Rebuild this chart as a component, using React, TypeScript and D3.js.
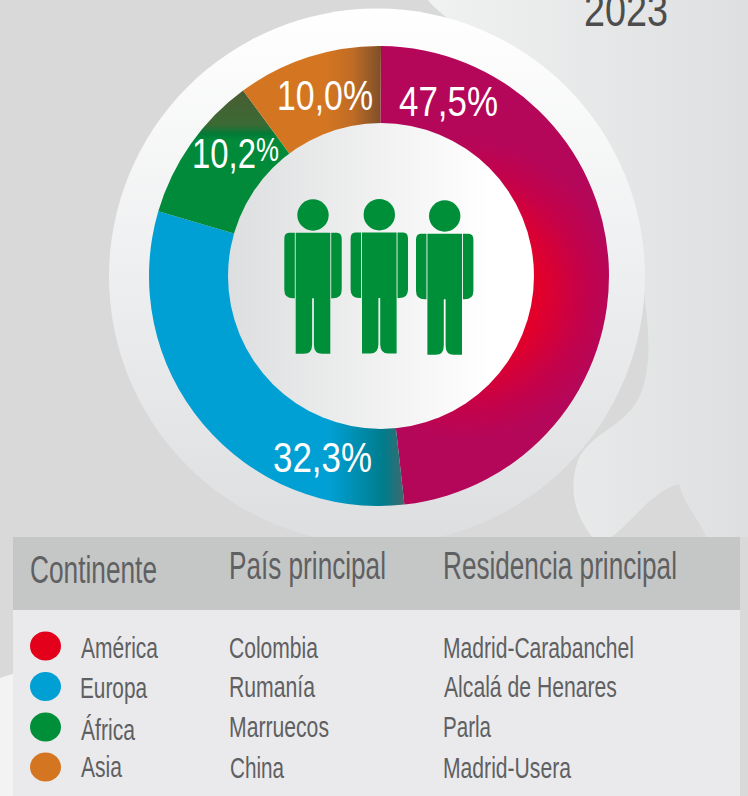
import React from "react";
import * as d3 from "d3";

const continents = ["América", "Europa", "África", "Asia"];
const countries = ["Colombia", "Rumanía", "Marruecos", "China"];
const residences = ["Madrid-Carabanchel", "Alcalá de Henares", "Parla", "Madrid-Usera"];
const colors = ["#e2001a", "#009fd4", "#008f39", "#d47621"];
// Printed labels, and the share of the ring each slice really occupies in the picture
const labels = ["47,5%", "32,3%", "10,2%", "10,0%"];
const sliceShares = [48.1, 31.3, 10.4, 10.2];
const headers = ["Continente", "País principal", "Residencia principal"];
const yearLabel = "2023";

const W = 748, H = 796;
const cx = 379, cy = 276;
const FONT = "'Liberation Sans', Arial, sans-serif";
const TXT = "#5f6062";

const pie = d3.pie<number>().sort(null).startAngle((0.5 * Math.PI) / 180).endAngle((360.5 * Math.PI) / 180);
const arc = d3.arc<d3.PieArcDatum<number>>().innerRadius(120).outerRadius(230);
const slices = pie(sliceShares);
const sliceFills = ["url(#gAm)", "url(#gEu)", "url(#gAf)", "url(#gAs)"];

const measureCtx = document.createElement("canvas").getContext("2d") as CanvasRenderingContext2D;
function scaleFor(text: string, size: number, w: number) {
  measureCtx.font = `${size}px 'Liberation Sans'`;
  return w / measureCtx.measureText(text).width;
}

function T({ x, y, w, size, children, fill = TXT }: any) {
  const sx = scaleFor(children, size, w);
  return (
    <text transform={`translate(${x},${y}) scale(${sx},1)`} fontSize={size} fontFamily={FONT} fill={fill}>
      {children}
    </text>
  );
}

const personPath = (() => {
  const p = d3.path();
  const half = (s: number) => {
    const a = s * 17.3, b = s * 0.9;
    p.moveTo(a, 0);
    p.lineTo(0, 0);
    p.lineTo(0, 65.5);
    p.lineTo(b, 65.5);
    p.lineTo(b, 112);
    p.quadraticCurveTo(b, 121, s * 9, 121);
    p.lineTo(a, 121);
    p.closePath();
  };
  half(-1);
  half(1);
  const armShape = (s: number) => {
    const i = s * 18.2, o = s * 28.7;
    p.moveTo(i, 0);
    p.lineTo(s * 24, 0);
    p.quadraticCurveTo(o, 0, o, 6);
    p.lineTo(o, 57);
    p.quadraticCurveTo(o, 65.6, s * 20, 65.6);
    p.lineTo(i, 65.6);
    p.closePath();
  };
  armShape(-1);
  armShape(1);
  return p.toString();
})();

const people = [
  { x: 313, y: 232.7 },
  { x: 379.3, y: 232.4 },
  { x: 444.7, y: 233.7 },
];

export default function App() {
  const rowBase = [658, 697, 737, 778];
  const contBase = [658, 698, 740, 777];
  const contX = [81, 80, 81, 81];
  const contW = [77, 67, 54, 41];
  const ctryX = [229, 229, 229, 230];
  const ctryW = [89, 86, 100, 54];
  const resX = [443, 444, 443, 443];
  const resW = [191, 173, 48, 128];
  const dotY = [646, 686.5, 727, 767];
  const shift = `translate(${-cx},${-cy})`;
  const sx102 = 64 / ((0.556 * 3 + 0.278) * 42);
  return (
    <svg width={W} height={H} viewBox={`0 0 ${W} ${H}`} style={{ position: "absolute", left: 0, top: 0 }}>
      <defs>
        <linearGradient id="bgR" gradientUnits="userSpaceOnUse" x1={430} x2={748} y1={0} y2={0}>
          <stop offset="0" stopColor="#f0f1f1" />
          <stop offset="1" stopColor="#dedfe0" />
        </linearGradient>
        <linearGradient id="halo" x1={0} x2={0} y1={0} y2={1}>
          <stop offset="0" stopColor="#ffffff" />
          <stop offset="1" stopColor="#dcdee0" />
        </linearGradient>
        <linearGradient id="core" gradientUnits="userSpaceOnUse" x1={228} x2={490} y1={0} y2={0}>
          <stop offset="0" stopColor="#dddedf" />
          <stop offset="1" stopColor="#ffffff" />
        </linearGradient>
        <radialGradient id="gAm" gradientUnits="userSpaceOnUse" cx={465} cy={290} r={150} gradientTransform={shift}>
          <stop offset="0.5" stopColor="#e2002a" />
          <stop offset="0.78" stopColor="#c4024a" />
          <stop offset="1" stopColor="#b5075a" />
        </radialGradient>
        <linearGradient id="gEu" gradientUnits="userSpaceOnUse" x1={330} x2={404} y1={0} y2={0} gradientTransform={shift}>
          <stop offset="0" stopColor="#009fd4" />
          <stop offset="0.72" stopColor="#007c8c" />
          <stop offset="1" stopColor="#3f6a6c" />
        </linearGradient>
        <linearGradient id="gAf" gradientUnits="userSpaceOnUse" x1={0} x2={0} y1={90} y2={140} gradientTransform={shift}>
          <stop offset="0" stopColor="#4a5c33" />
          <stop offset="0.7" stopColor="#3b6a34" />
          <stop offset="0.88" stopColor="#017a38" />
          <stop offset="1" stopColor="#008a39" />
        </linearGradient>
        <linearGradient id="gAs" gradientUnits="userSpaceOnUse" x1={325} x2={381} y1={0} y2={0} gradientTransform={shift}>
          <stop offset="0" stopColor="#d47621" />
          <stop offset="0.5" stopColor="#bf6c25" />
          <stop offset="1" stopColor="#7e4f2a" />
        </linearGradient>
      </defs>

      <rect width={W} height={H} fill="#d9d9d9" />
      <path
        d="M428 0 C440 20 640 150 645 300 C650 340 652 380 634 406 C618 428 590 435 578 460 C568 490 575 515 592 537 L611 537 C630 525 650 492 679 484 C684 505 700 520 706 537 L748 537 L748 0 Z"
        fill="url(#bgR)"
      />
      <path d="M0 678 C5 676 9 675 13 674 L13 796 L0 796 Z" fill="#f3f3f3" />

      <circle cx={377} cy={276.5} r={268} fill="url(#halo)" />

      <g transform={`translate(${cx},${cy})`}>
        {slices.map((s, i) => (
          <path key={continents[i]} d={arc(s) as string} fill={sliceFills[i]} />
        ))}
      </g>
      <circle cx={381} cy={276} r={153} fill="url(#core)" />

      {people.map((p, i) => (
        <g key={i} transform={`translate(${p.x},${p.y})`} fill="#008f39">
          <circle cx={0} cy={-17.7} r={15.7} />
          <path d={personPath} />
        </g>
      ))}

      <T x={399} y={116} w={99} size={43} fill="#fff">{labels[0]}</T>
      <T x={273} y={472} w={99} size={43} fill="#fff">{labels[1]}</T>
      <text transform={`translate(192,168) scale(${sx102},1)`} fontSize={42} fontFamily={FONT} fill="#fff">
        10,2<tspan fontSize={33} dy={-7}>%</tspan>
      </text>
      <T x={277} y={110} w={96} size={43} fill="#fff">{labels[3]}</T>

      <T x={584} y={26} w={84} size={47} fill="#4d4d4d">{yearLabel}</T>

      <rect x={13} y={537} width={727} height={73} fill="#c5c7c6" />
      <rect x={13} y={610} width={727} height={186} fill="#eaeaec" />

      <T x={30} y={583} w={127} size={38}>{headers[0]}</T>
      <T x={229} y={579} w={157} size={38}>{headers[1]}</T>
      <T x={443} y={579} w={234} size={38}>{headers[2]}</T>

      {continents.map((c, i) => (
        <g key={c}>
          <ellipse cx={45.5} cy={dotY[i]} rx={15.5} ry={14.5} fill={colors[i]} />
          <T x={contX[i]} y={contBase[i]} w={contW[i]} size={30}>{c}</T>
          <T x={ctryX[i]} y={rowBase[i]} w={ctryW[i]} size={30}>{countries[i]}</T>
          <T x={resX[i]} y={rowBase[i]} w={resW[i]} size={30}>{residences[i]}</T>
        </g>
      ))}
    </svg>
  );
}
